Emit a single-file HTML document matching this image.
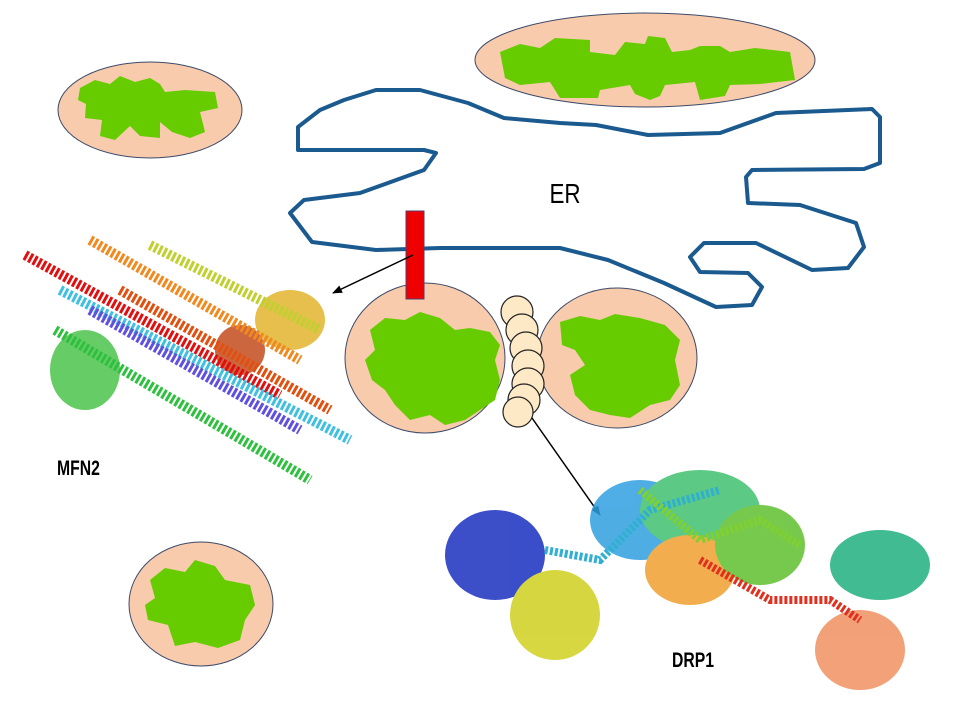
<!DOCTYPE html>
<html><head><meta charset="utf-8"><style>
body{margin:0;background:#fff;}
svg{display:block}
text{font-family:"Liberation Sans",sans-serif;}
</style></head><body>
<svg width="960" height="720" viewBox="0 0 960 720" xmlns="http://www.w3.org/2000/svg">
<defs>
<marker id="ah" markerWidth="10" markerHeight="8" refX="9" refY="4" orient="auto" markerUnits="userSpaceOnUse"><path d="M0,0 L10,4 L0,8 z" fill="#000"/></marker>
</defs>
<g stroke="#3c4a6a" stroke-width="1" fill="#f7cbac">
<ellipse cx="150" cy="110" rx="92" ry="48"/>
<ellipse cx="645" cy="60" rx="170" ry="47"/>
<ellipse cx="201" cy="604" rx="72" ry="62"/>
<ellipse cx="425" cy="358" rx="80" ry="75"/>
<ellipse cx="617" cy="358" rx="80" ry="70"/>
</g>
<g fill="#66cc00">
<path d="M80,88 L95,80 L110,84 L120,76 L135,82 L150,78 L160,84 L165,92 L185,90 L215,92 L218,108 L200,112 L205,132 L190,138 L172,132 L160,122 L160,138 L140,136 L130,126 L115,140 L100,136 L102,120 L85,118 L86,104 L78,100 Z"/>
<path d="M500,52 L520,44 L540,48 L555,38 L590,40 L590,52 L615,55 L625,42 L645,44 L648,36 L665,38 L672,52 L690,50 L700,46 L720,46 L730,52 L755,48 L790,52 L795,80 L760,84 L730,85 L725,96 L700,100 L695,82 L665,85 L660,96 L650,100 L635,94 L630,85 L600,90 L598,98 L560,98 L550,82 L520,85 L505,78 Z"/>
<path d="M150,580 L165,568 L185,572 L195,560 L215,566 L225,580 L250,585 L255,605 L245,620 L240,640 L218,648 L195,642 L175,646 L168,625 L148,620 L145,605 L155,598 Z"/>
<path d="M370,330 L385,318 L405,320 L420,312 L440,318 L455,330 L470,328 L490,332 L500,345 L495,360 L500,380 L495,400 L480,410 L465,420 L445,425 L430,415 L410,420 L395,405 L385,390 L372,380 L365,360 L375,350 Z"/>
<path d="M560,322 L580,316 L600,320 L615,314 L640,318 L665,325 L680,340 L675,360 L680,385 L670,400 L650,405 L630,418 L610,415 L590,410 L575,395 L570,375 L585,365 L575,350 L562,345 Z"/>
</g>
<path d="M298,150 L298,127 L320,110 L344,100 L376,90 L420,90 L468,103 L504,118 L560,123 L596,125 L648,135 L720,133 L776,113 L872,109 L880,117 L880,163 L864,169 L752,170 L746,177 L748,203 L800,205 L856,223 L864,247 L848,268 L812,270 L756,243 L704,243 L690,257 L700,272 L748,273 L762,287 L752,305 L716,307 L664,283 L608,260 L560,248 L440,248 L376,250 L312,242 L290,213 L304,200 L360,193 L424,170 L436,153 L424,150 Z" fill="none" stroke="#1b5a8e" stroke-width="4" stroke-linejoin="round"/>
<rect x="406" y="211" width="18" height="88" fill="#ee0000" stroke="#5a3a6a" stroke-width="1"/>
<g fill="#fde9c6" stroke="#222" stroke-width="1.2">
<circle cx="517" cy="312" r="16"/><circle cx="522" cy="330" r="16"/><circle cx="526" cy="348" r="16"/><circle cx="528" cy="366" r="16"/><circle cx="528" cy="384" r="16"/><circle cx="524" cy="400" r="16"/><circle cx="518" cy="412" r="15"/>
</g>
<line x1="413" y1="255" x2="333" y2="293" stroke="#000" stroke-width="1.5" marker-end="url(#ah)"/>
<line x1="532" y1="418" x2="600" y2="515" stroke="#000" stroke-width="1.5" marker-end="url(#ah)"/>
<g opacity="0.8">
<ellipse cx="85" cy="370" rx="35" ry="40" fill="#40c040"/>
<ellipse cx="290" cy="320" rx="35" ry="30" fill="#e0b020"/>
<ellipse cx="240" cy="350" rx="25" ry="25" fill="#c04010"/>
</g>
<g stroke-width="10" stroke-dasharray="3 2" fill="none">
<line x1="25" y1="255" x2="280" y2="395" stroke="#e01010"/>
<line x1="90" y1="240" x2="300" y2="360" stroke="#f08a20"/>
<line x1="150" y1="245" x2="320" y2="330" stroke="#c0d030"/>
<line x1="60" y1="290" x2="350" y2="440" stroke="#40c0e0"/>
<line x1="55" y1="330" x2="310" y2="480" stroke="#30c040"/>
<line x1="90" y1="310" x2="300" y2="430" stroke="#6050e0"/>
<line x1="120" y1="290" x2="330" y2="410" stroke="#e05010"/>
</g>
<g opacity="0.85">
<ellipse cx="495" cy="555" rx="50" ry="45" fill="#1a30c0"/>
<ellipse cx="555" cy="615" rx="45" ry="45" fill="#d0d020"/>
<ellipse cx="640" cy="520" rx="50" ry="40" fill="#30a0e0"/>
<ellipse cx="700" cy="510" rx="60" ry="40" fill="#40c070"/>
<ellipse cx="690" cy="570" rx="45" ry="35" fill="#f0a030"/>
<ellipse cx="760" cy="545" rx="45" ry="40" fill="#60c030"/>
<ellipse cx="880" cy="565" rx="50" ry="35" fill="#20b080"/>
<ellipse cx="860" cy="650" rx="45" ry="40" fill="#f09060"/>
</g>
<g stroke-width="8" stroke-dasharray="3 2" fill="none">
<path d="M545,550 L600,560 L650,510 L720,490" stroke="#30b0d0"/>
<path d="M700,560 L770,600 L830,600 L860,620" stroke="#e03020"/>
<path d="M640,490 L700,540 L760,520 L800,545" stroke="#80d030"/>
</g>
<text x="0" y="0" font-size="28" text-anchor="middle" transform="translate(565,203) scale(0.8,1)">ER</text>
<text x="0" y="0" font-size="21" font-weight="bold" transform="translate(57,475) scale(0.75,1)">MFN2</text>
<text x="0" y="0" font-size="21" font-weight="bold" transform="translate(672,667) scale(0.75,1)">DRP1</text>
</svg>
</body></html>
